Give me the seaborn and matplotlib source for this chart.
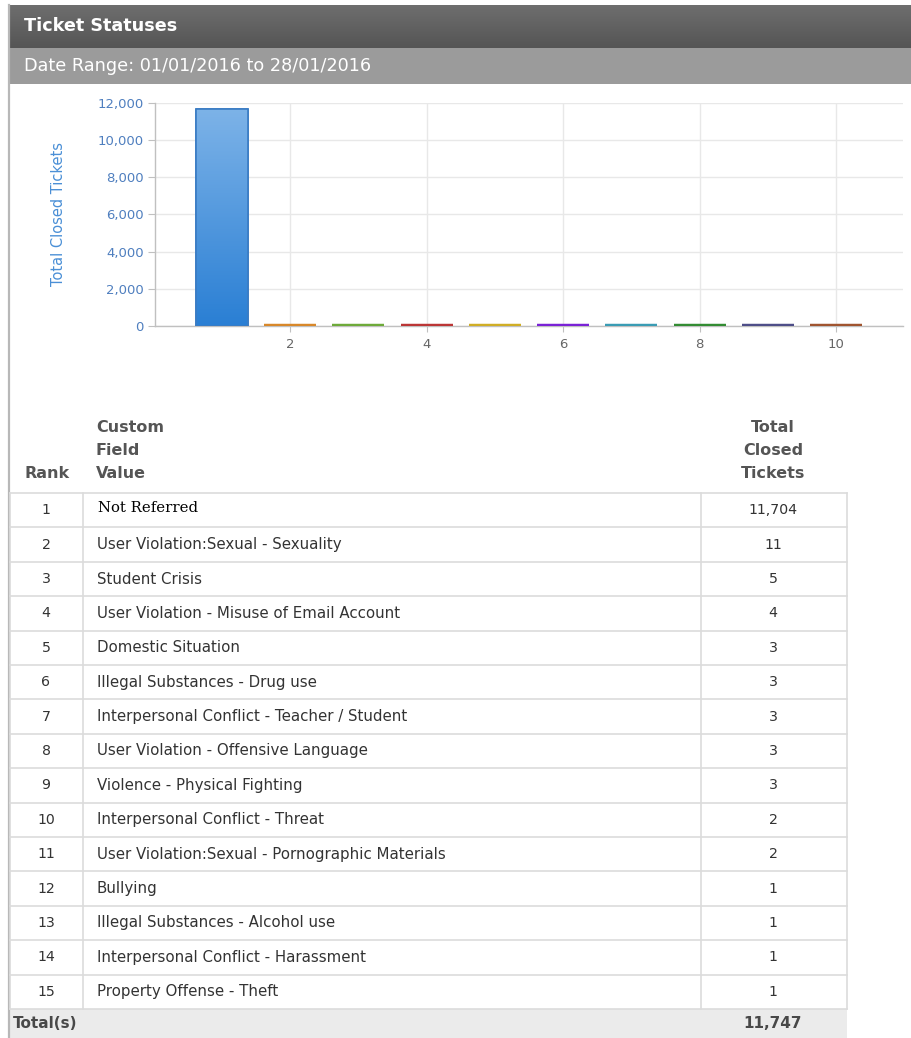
import numpy as np
import matplotlib
matplotlib.use("Agg")
import matplotlib.pyplot as plt
import seaborn as sns
from matplotlib.patches import Rectangle
from matplotlib.ticker import FuncFormatter

# data
ranks = list(range(1, 16))
field_values = [
    "Not Referred",
    "User Violation:Sexual - Sexuality",
    "Student Crisis",
    "User Violation - Misuse of Email Account",
    "Domestic Situation",
    "Illegal Substances - Drug use",
    "Interpersonal Conflict - Teacher / Student",
    "User Violation - Offensive Language",
    "Violence - Physical Fighting",
    "Interpersonal Conflict - Threat",
    "User Violation:Sexual - Pornographic Materials",
    "Bullying",
    "Illegal Substances - Alcohol use",
    "Interpersonal Conflict - Harassment",
    "Property Offense - Theft",
]
closed_tickets = [11704, 11, 5, 4, 3, 3, 3, 3, 3, 2, 2, 1, 1, 1, 1]
total_label = "11,747"

chart_ranks = ranks[:10]
chart_values = closed_tickets[:10]
bar_colors = ["#4a90dc", "#ec9a34", "#7fbb48", "#d04444", "#e4c232",
              "#8f34ea", "#4aaec6", "#40a040", "#60609c", "#b46440"]
edge_colors = ["#3a7cc4", "#d8882a", "#6eaa3a", "#bb3636", "#d0ae26",
               "#7a22d6", "#3a9cb4", "#338c33", "#4e4e88", "#a0542f"]

W, H = 912, 1038
fig = plt.figure(figsize=(W / 100, H / 100), dpi=100)
fig.patch.set_facecolor("white")

# background layer in pixel coordinates
bg = fig.add_axes([0, 0, 1, 1])
bg.set_xlim(0, W)
bg.set_ylim(H, 0)
bg.axis("off")

# header bars
grad = np.linspace(0, 1, 64).reshape(-1, 1)
bg.imshow(grad, cmap=matplotlib.colors.LinearSegmentedColormap.from_list("h", ["#6e6e6e", "#555555"]),
          extent=(8, W, 48, 5), aspect="auto", zorder=1)
bg.add_patch(Rectangle((8, 48), W - 8, 36, facecolor="#9b9b9b", edgecolor="none", zorder=1))
bg.plot([9, 9], [5, H], color="#b8b8b8", lw=1.6, zorder=2)
bg.text(24, 26, "Ticket Statuses", color="white", fontsize=12.7, fontweight="bold",
        va="center", ha="left")
bg.text(24, 66, "Date Range: 01/01/2016 to 28/01/2016", color="white", fontsize=12.7,
        va="center", ha="left")

# table
row_top, row_h = 493, 34.4
x_left, x_c1, x_c2, x_right = 10, 83, 701, 847
head_col = "#555555"
bg.text(47, 473, "Rank", color=head_col, fontsize=11.5, fontweight="bold", ha="center", va="center")
for i, w in enumerate(["Custom", "Field", "Value"]):
    bg.text(96, 428 + 22.5 * i, w, color=head_col, fontsize=11.5, fontweight="bold", ha="left", va="center")
for i, w in enumerate(["Total", "Closed", "Tickets"]):
    bg.text(773, 428 + 22.5 * i, w, color=head_col, fontsize=11.5, fontweight="bold", ha="center", va="center")

n = len(ranks)
line_col = "#dcdcdc"
for k in range(n + 1):
    y = row_top + row_h * k
    bg.plot([x_left, x_right], [y, y], color=line_col, lw=1.2, zorder=2)
y_end = row_top + row_h * n
for x in [x_left, x_c1, x_c2, x_right]:
    bg.plot([x, x], [row_top, y_end], color=line_col, lw=1.2, zorder=2)

for i, (r, v, c) in enumerate(zip(ranks, field_values, closed_tickets)):
    yc = row_top + row_h * (i + 0.5)
    bg.text(46, yc, str(r), color="#333333", fontsize=10.2, ha="center", va="center")
    if i == 0:
        bg.text(98, yc - 2, v, color="black", fontsize=10.7, ha="left", va="center", family="DejaVu Serif")
    else:
        bg.text(97, yc, v, color="#333333", fontsize=10.8, ha="left", va="center")
    bg.text(773, yc, f"{c:,}", color="#333333", fontsize=10.2, ha="center", va="center")

bg.add_patch(Rectangle((x_left, y_end), x_right - x_left, H - y_end, facecolor="#ebebeb",
                       edgecolor="none", zorder=1))
bg.text(13, y_end + 15, "Total(s)", color="#484848", fontsize=11, fontweight="bold", ha="left", va="center")
bg.text(773, y_end + 15, total_label, color="#484848", fontsize=11, fontweight="bold", ha="center", va="center")

# bar chart
ax_l, ax_r, ax_t, ax_b = 155, 903, 103, 326
ax = fig.add_axes([ax_l / W, (H - ax_b) / H, (ax_r - ax_l) / W, (ax_b - ax_t) / H])
ax.patch.set_alpha(0)
sns.barplot(x=chart_ranks, y=chart_values, hue=chart_ranks, palette=bar_colors,
            native_scale=True, dodge=False, legend=False, width=0.76, ax=ax, zorder=3)

for p, ec in zip(ax.patches, edge_colors):
    p.set_edgecolor(ec)
    p.set_linewidth(3.2)
    p.set_joinstyle("round")

# gradient fill on the tall first bar
first = ax.patches[0]
first.set_linewidth(1.2)
bx, by = first.get_x(), first.get_y()
bw, bh = first.get_width(), first.get_height()
blue = matplotlib.colors.LinearSegmentedColormap.from_list("b", ["#2a7fd4", "#7db3e8"])
img = ax.imshow(np.linspace(0, 1, 128).reshape(-1, 1), cmap=blue, origin="lower",
                extent=(bx, bx + bw, by, by + bh), aspect="auto", zorder=3.5)
img.set_clip_path(first)
edge = Rectangle((bx, by), bw, bh, facecolor="none", edgecolor=edge_colors[0], lw=1.2, zorder=4)
ax.add_patch(edge)

ax.set_xlim(0.02, 10.98)
ax.set_ylim(0, 12000)
ax.set_xticks([2, 4, 6, 8, 10])
ax.set_yticks(range(0, 12001, 2000))
ax.yaxis.set_major_formatter(FuncFormatter(lambda v, _: f"{int(v):,}"))
ax.grid(True, color="#e8e8e8", lw=1, zorder=0)
ax.set_axisbelow(True)
for s in ["top", "right"]:
    ax.spines[s].set_visible(False)
for s in ["left", "bottom"]:
    ax.spines[s].set_color("#c0c0c0")
    ax.spines[s].set_linewidth(1)
ax.tick_params(axis="y", colors="#c0c0c0", labelcolor="#4f7fbf", labelsize=9.5, length=5, pad=3)
ax.tick_params(axis="x", colors="#c0c0c0", labelcolor="#666666", labelsize=9.5, length=4, pad=5)
ax.set_xlabel("")
ax.set_ylabel("Total Closed Tickets", color="#4a8fd6", fontsize=10.5, labelpad=23)

fig.savefig("out.png", dpi=100)
